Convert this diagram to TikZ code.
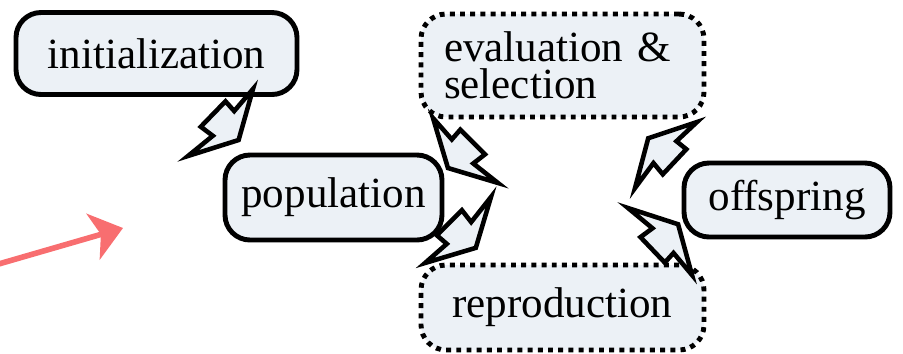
\documentclass[tikz,border=0pt]{standalone}
\usepackage{fontspec}
\setmainfont{Liberation Serif}
\usetikzlibrary{calc,arrows.meta}

\definecolor{boxfill}{RGB}{236,241,246}
\definecolor{penred}{RGB}{248,110,112}

% zigzag arrow from #2 to #3, #1 = 1 or -1 picks the side of the zigzag
\newcommand{\boltarrow}[3][1]{%
  \path let \p1=(#2), \p2=(#3) in
    \pgfextra{%
      \pgfmathsetmacro{\boltangle}{atan2(\y2-\y1,\x2-\x1)}%
      \pgfmathsetmacro{\boltlength}{veclen(\x2-\x1,\y2-\y1)}%
      \pgfmathsetmacro{\boltwidth}{#1*\boltlength}%
      \global\let\boltangle\boltangle
      \global\let\boltlength\boltlength
      \global\let\boltwidth\boltwidth};
  \begin{scope}[shift={(#2)}, rotate=\boltangle, x=\boltlength pt, y=\boltwidth pt]
    \draw[bolt] (0,0) -- (0.31,-0.02) -- (0.30,0.12) -- (0.68,0.12)
      -- (0.66,-0.04) -- (1,0) -- (0.50,-0.27) -- cycle;
  \end{scope}}

\begin{document}
\begin{tikzpicture}[
    stage/.style={draw, line width=2.8pt, rounded corners=0.5cm, fill=boxfill,
      inner sep=0pt, outer sep=0pt, font=\fontsize{24.5}{21}\selectfont},
    dotstage/.style={stage, line cap=butt, dash pattern=on 2.8pt off 3.0pt},
    bolt/.style={draw, line width=2.6pt, fill=boxfill, line join=miter, miter limit=10}]
  \useasboundingbox (0,0) rectangle (18.06,-7.06);

  % Stages
  \node (init) [stage, minimum width=5.62cm, minimum height=1.64cm] at (3.13,-1.07) {initialization};
  \node (pop) [stage, minimum width=4.34cm, minimum height=1.70cm] at (6.67,-3.95) {population};
  \node (eval) [dotstage, minimum height=2.06cm, text width=4.74cm, inner xsep=0.46cm, align=left] at (11.25,-1.31) {evaluation \&\\selection};
  \node (off) [stage, minimum width=4.12cm, minimum height=1.48cm] at (15.74,-4.00) {offspring};
  \node (repr) [dotstage, minimum width=5.66cm, minimum height=1.70cm] at (11.25,-6.15) {reproduction};

  % Free ends of the zigzag arrows
  \coordinate (end1) at (3.76,-3.12);
  \coordinate (end2) at (9.96,-3.66);
  \coordinate (end3) at (9.82,-3.94);
  \coordinate (end4) at (12.70,-3.76);
  \coordinate (end5) at (12.56,-4.16);

  % Zigzag arrows
  \boltarrow[-1]{$(init.south east)+(-0.88,0.11)$}{end1}
  \boltarrow{$(eval.south west)+(0.24,-0.02)$}{end2}
  \boltarrow{$(repr.north west)+(0.08,0.04)$}{end3}
  \boltarrow{$(eval.south east)+(-0.14,-0.10)$}{end4}
  \boltarrow{$(repr.north east)+(-0.24,-0.20)$}{end5}

  % Pen stroke
  \coordinate (pen0) at (-0.2,-5.33);
  \coordinate (pen1) at (2.46,-4.56);
  \draw[penred, line width=3.2pt, -{Stealth[length=0.62cm, width=0.95cm, inset=0.16cm]}] (pen0) -- (pen1);
\end{tikzpicture}
\end{document}
